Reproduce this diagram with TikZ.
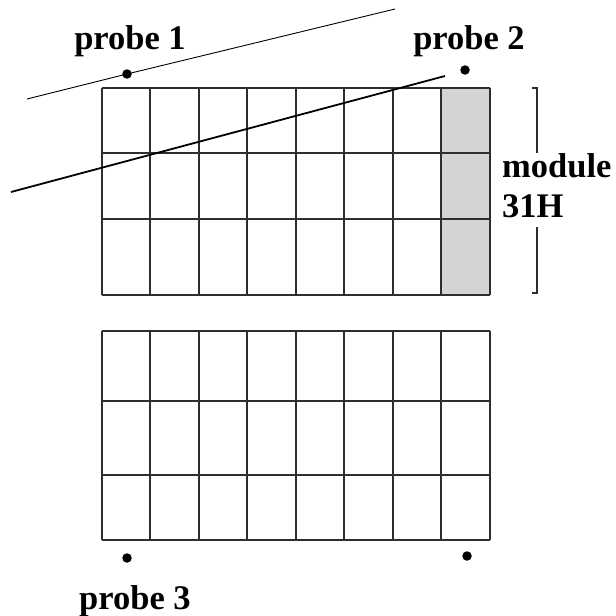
\documentclass[tikz,border=0pt]{standalone}
\usepackage{fontspec}
\setmainfont{Liberation Serif}
\usetikzlibrary{positioning,calc}
\definecolor{Cell}{HTML}{D4D4D4}
\definecolor{Ink}{HTML}{2E2E2E}

\begin{document}
\begin{tikzpicture}[x=1pt,y=-1pt,
    gridline/.style={Ink,line width=1.3pt},
    probedot/.style={circle,fill=black,inner sep=0pt,minimum size=9.5pt},
    lbl/.style={font=\fontsize{34.5}{40}\selectfont\bfseries,inner sep=0pt}]
  \useasboundingbox (0,0) rectangle (616,616);
  % shaded column of module 31H
  \fill[Cell] (441,88) rectangle (490,295);
  % upper module
  \foreach \x in {102,150,199,247,296,344,393,441,490}
    \draw[gridline] (\x,88) -- (\x,295);
  \foreach \y in {88,153,219,295}
    \draw[gridline] (102,\y) -- (490,\y);
  % lower module
  \foreach \x in {102,150,199,247,296,344,393,441,490}
    \draw[gridline] (\x,331) -- (\x,540);
  \foreach \y in {331,401,475,540}
    \draw[gridline] (102,\y) -- (490,\y);
  % probes
  \node[probedot] (pone) at (127,74) {};
  \node[probedot] (ptwo) at (465,70) {};
  \node[probedot] (pthree) at (127,558) {};
  \node[probedot] (pfour) at (467,556) {};
  \node[lbl,anchor=base] (lone) at (130,49) {probe 1};
  \node[lbl,anchor=base] (ltwo) at (469,49) {probe 2};
  \node[lbl,anchor=base] (lthree) at (135,609) {probe 3};
  % tracks
  \coordinate (ta) at (27,99);
  \coordinate (tb) at (395,9);
  \draw[line width=0.9pt] (ta) -- (pone.center) -- (tb);
  \coordinate (sa) at (11,192);
  \coordinate (sb) at (445,76);
  \draw[line width=1.8pt] (sa) -- (sb);
  % module label and bracket
  \node[lbl,anchor=base west] (mod) at (502,177) {module};
  \node[lbl,anchor=base west] (mid) at (502,217) {31H};
  \draw[Ink,line width=1.2pt] (532,88) -- (537,88) -- (537,153);
  \draw[Ink,line width=1.2pt] (537,227) -- (537,293) -- (532,293);
\end{tikzpicture}
\end{document}
